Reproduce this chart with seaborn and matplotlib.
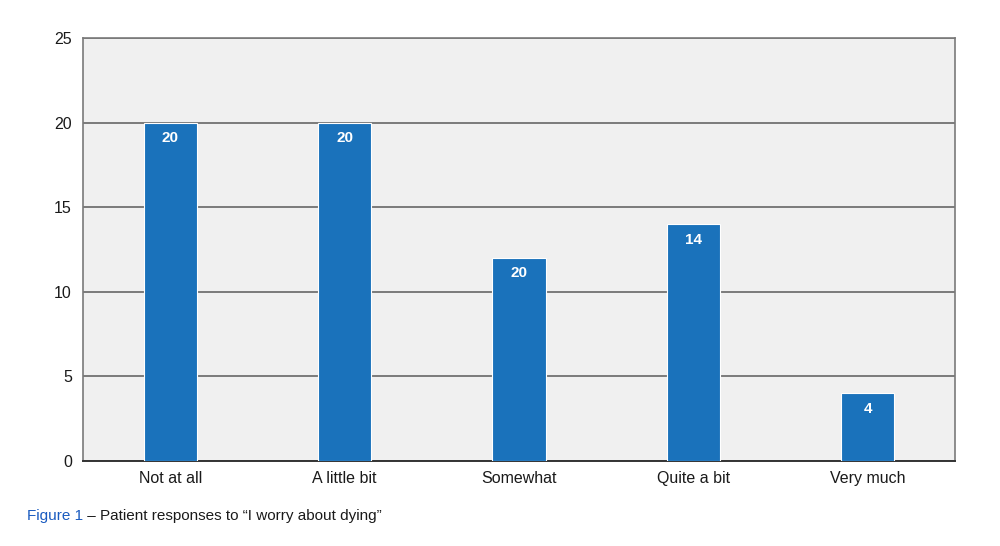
import matplotlib
matplotlib.use('Agg')
import matplotlib.pyplot as plt
import seaborn as sns
import pandas as pd

# ─── DATA ─────────────────────────────────────────────────────────────────────
categories = ['Not at all', 'A little bit', 'Somewhat', 'Quite a bit', 'Very much']
counts = [20, 20, 12, 14, 4]
bar_labels = ['20', '20', '20', '14', '4']   # labels as printed on the bars
y_ticks = [0, 5, 10, 15, 20, 25]

df = pd.DataFrame({'Response': categories, 'Count': counts})

# ─── STYLE ────────────────────────────────────────────────────────────────────
sns.set_style('white')
plt.rcParams['font.family'] = ['Liberation Sans', 'DejaVu Sans']

fig = plt.figure(figsize=(10, 5.46), dpi=100)
ax = fig.add_axes([0.083, 0.156, 0.872, 0.774])
ax.set_facecolor('#f0f0f0')

sns.barplot(data=df, x='Response', y='Count', color='#1a72bb', saturation=1,
            width=0.305, edgecolor='white', linewidth=0.8, ax=ax, zorder=3)

# value labels in white, just under the top of each bar
for patch, lab in zip(ax.patches, bar_labels):
    ax.text(patch.get_x() + patch.get_width() / 2, patch.get_height() - 0.5, lab,
            ha='center', va='top', color='white', fontsize=11, fontweight='bold',
            zorder=4)

ax.set_ylim(0, 25)
ax.set_yticks(y_ticks)
ax.yaxis.grid(True, color='#666666', linewidth=1.2, zorder=1)
ax.set_axisbelow(True)
ax.set_xlabel('')
ax.set_ylabel('')
ax.tick_params(axis='both', length=0, labelsize=11.5, colors='#1a1a1a')
ax.tick_params(axis='x', pad=7)
ax.tick_params(axis='y', pad=8)

for side in ['left', 'right', 'top']:
    ax.spines[side].set_color('#7a7a7a')
    ax.spines[side].set_linewidth(1.2)
ax.spines['bottom'].set_color('#333333')
ax.spines['bottom'].set_linewidth(1.4)

# caption: blue "Figure 1" followed by the black description
fig_lab = fig.text(0.027, 0.055, 'Figure 1', color='#1a5bc0', fontsize=11, va='center')
ax.annotate(' \u2013 Patient responses to \u201cI worry about dying\u201d',
            xy=(1, 0.5), xycoords=fig_lab, va='center', ha='left',
            color='#1a1a1a', fontsize=11)

fig.savefig('out.png', dpi=100)
